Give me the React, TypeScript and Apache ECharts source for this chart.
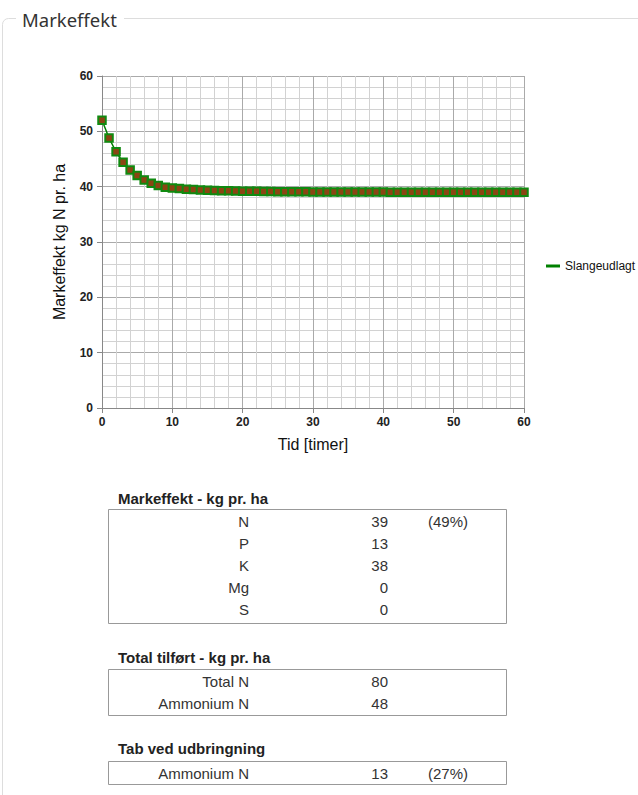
import React, { useEffect, useRef } from "react";
import * as echarts from "echarts";

const seriesName = "Slangeudlagt";
const xValues = [
  0, 1, 2, 3, 4, 5, 6, 7, 8, 9, 10, 11, 12, 13, 14, 15, 16, 17, 18, 19, 20,
  21, 22, 23, 24, 25, 26, 27, 28, 29, 30, 31, 32, 33, 34, 35, 36, 37, 38, 39, 40,
  41, 42, 43, 44, 45, 46, 47, 48, 49, 50, 51, 52, 53, 54, 55, 56, 57, 58, 59, 60,
];
const yValues = [
  52.0, 48.8, 46.3, 44.4, 43.0, 42.0, 41.2, 40.6, 40.2, 39.9, 39.75,
  39.65, 39.55, 39.48, 39.42, 39.37, 39.32, 39.28, 39.25, 39.22, 39.19,
  39.17, 39.15, 39.13, 39.12, 39.1, 39.09, 39.08, 39.07, 39.06, 39.05,
  39.05, 39.04, 39.04, 39.03, 39.03, 39.03, 39.02, 39.02, 39.02, 39.02,
  39.01, 39.01, 39.01, 39.01, 39.01, 39.01, 39.0, 39.0, 39.0, 39.0,
  39.0, 39.0, 39.0, 39.0, 39.0, 39.0, 39.0, 39.0, 39.0, 39.0,
];
const xTickLabels = ["0", "10", "20", "30", "40", "50", "60"];
const yTickLabels = ["0", "10", "20", "30", "40", "50", "60"];

const effectTitle = "Markeffekt - kg pr. ha";
const effectLabels = ["N", "P", "K", "Mg", "S"];
const effectValues = [39, 13, 38, 0, 0];
const effectPct = ["(49%)", "", "", "", ""];

const suppliedTitle = "Total tilført - kg pr. ha";
const suppliedLabels = ["Total N", "Ammonium N"];
const suppliedValues = [80, 48];
const suppliedPct = ["", ""];

const lossTitle = "Tab ved udbringning";
const lossLabels = ["Ammonium N"];
const lossValues = [13];
const lossPct = ["(27%)"];

const FONT = "'Liberation Sans', Arial, sans-serif";

function buildTable(
  title: string,
  labels: string[],
  values: number[],
  pcts: string[],
  titleY: number,
  boxTop: number,
  boxHeight: number
) {
  const els: any[] = [];
  els.push({
    type: "text",
    x: 118,
    y: titleY,
    style: {
      text: title,
      font: `bold 15px ${FONT}`,
      fill: "#222",
      verticalAlign: "middle",
      align: "left",
    },
  });
  els.push({
    type: "rect",
    shape: { x: 108.5, y: boxTop, width: 398, height: boxHeight },
    style: { fill: "none", stroke: "#999", lineWidth: 1 },
  });
  labels.forEach((lab, i) => {
    const cy = boxTop + 11.5 + i * 22;
    els.push({
      type: "text",
      x: 249,
      y: cy,
      style: { text: lab, font: `15px ${FONT}`, fill: "#333", align: "right", verticalAlign: "middle" },
    });
    els.push({
      type: "text",
      x: 388,
      y: cy,
      style: { text: String(values[i]), font: `15px ${FONT}`, fill: "#333", align: "right", verticalAlign: "middle" },
    });
    if (pcts[i]) {
      els.push({
        type: "text",
        x: 428,
        y: cy,
        style: { text: pcts[i], font: `15px ${FONT}`, fill: "#333", align: "left", verticalAlign: "middle" },
      });
    }
  });
  return els;
}

export default function App() {
  const ref = useRef<HTMLDivElement>(null);
  useEffect(() => {
    if (!ref.current) return;
    const chart = echarts.init(ref.current, null, { renderer: "svg" });
    const data = xValues.map((x, i) => [x, yValues[i]]);
    const graphics: any[] = [
      {
        type: "rect",
        z: 0,
        shape: { x: 2.5, y: 18.5, width: 700, height: 900, r: [6, 0, 0, 0] },
        style: { fill: "none", stroke: "#ddd", lineWidth: 1 },
      },
      {
        type: "rect",
        z: 1,
        shape: { x: 16, y: 6, width: 108, height: 26 },
        style: { fill: "#fff" },
      },
      {
        type: "text",
        z: 2,
        x: 22,
        y: 19,
        style: {
          text: "Markeffekt",
          font: "18.5px 'Noto Sans', 'Open Sans', sans-serif",
          fill: "#333",
          verticalAlign: "middle",
          align: "left",
        },
      },
      ...buildTable(effectTitle, effectLabels, effectValues, effectPct, 498, 509.5, 114),
      ...buildTable(suppliedTitle, suppliedLabels, suppliedValues, suppliedPct, 657, 669.5, 46),
      ...buildTable(lossTitle, lossLabels, lossValues, lossPct, 748, 761.5, 23),
    ];
    chart.setOption({
      animation: false,
      backgroundColor: "#fff",
      grid: { left: 102, top: 76, width: 422, height: 332, containLabel: false },
      legend: {
        left: 541,
        top: 255,
        orient: "vertical",
        itemWidth: 14,
        itemHeight: 3,
        textStyle: { fontFamily: FONT, fontSize: 12, color: "#111" },
        data: [{ name: seriesName, icon: "rect", itemStyle: { color: "#008000", borderWidth: 0 } }],
      },
      xAxis: {
        type: "value",
        min: 0,
        max: 60,
        interval: 10,
        name: "Tid [timer]",
        nameLocation: "middle",
        nameGap: 28,
        nameTextStyle: { fontFamily: FONT, fontSize: 16, color: "#111" },
        axisLine: { show: true, onZero: false, lineStyle: { color: "#888", width: 1 } },
        axisTick: { show: true, length: 5, lineStyle: { color: "#888" } },
        axisLabel: {
          margin: 8,
          fontFamily: FONT,
          fontSize: 12,
          fontWeight: "bold",
          color: "#222",
          formatter: (v: number) => xTickLabels[Math.round(v / 10)] ?? "",
        },
        splitLine: { show: true, lineStyle: { color: "#aaa", width: 1 } },
        minorTick: { show: false, splitNumber: 5 },
        minorSplitLine: { show: true, lineStyle: { color: "#d2d2d2", width: 1 } },
      },
      yAxis: {
        type: "value",
        min: 0,
        max: 60,
        interval: 10,
        name: "Markeffekt kg N pr. ha",
        nameLocation: "middle",
        nameGap: 35,
        nameTextStyle: { fontFamily: FONT, fontSize: 16, color: "#111" },
        axisLine: { show: true, onZero: false, lineStyle: { color: "#888", width: 1 } },
        axisTick: { show: true, length: 5, lineStyle: { color: "#888" } },
        axisLabel: {
          margin: 9,
          fontFamily: FONT,
          fontSize: 12,
          fontWeight: "bold",
          color: "#222",
          formatter: (v: number) => yTickLabels[Math.round(v / 10)] ?? "",
        },
        splitLine: { show: true, lineStyle: { color: "#aaa", width: 1 } },
        minorTick: { show: false, splitNumber: 5 },
        minorSplitLine: { show: true, lineStyle: { color: "#d2d2d2", width: 1 } },
      },
      series: [
        {
          name: seriesName,
          type: "line",
          data,
          symbol: "rect",
          symbolSize: 7.5,
          showAllSymbol: true,
          itemStyle: { color: "#8b4513", borderColor: "#108a10", borderWidth: 2 },
          lineStyle: { color: "#008000", width: 1.5 },
          clip: true,
        },
      ],
      graphic: graphics,
    });
    return () => chart.dispose();
  }, []);
  return (
    <div
      ref={ref}
      style={{ position: "absolute", left: 0, top: 0, width: 638, height: 795 }}
    />
  );
}
